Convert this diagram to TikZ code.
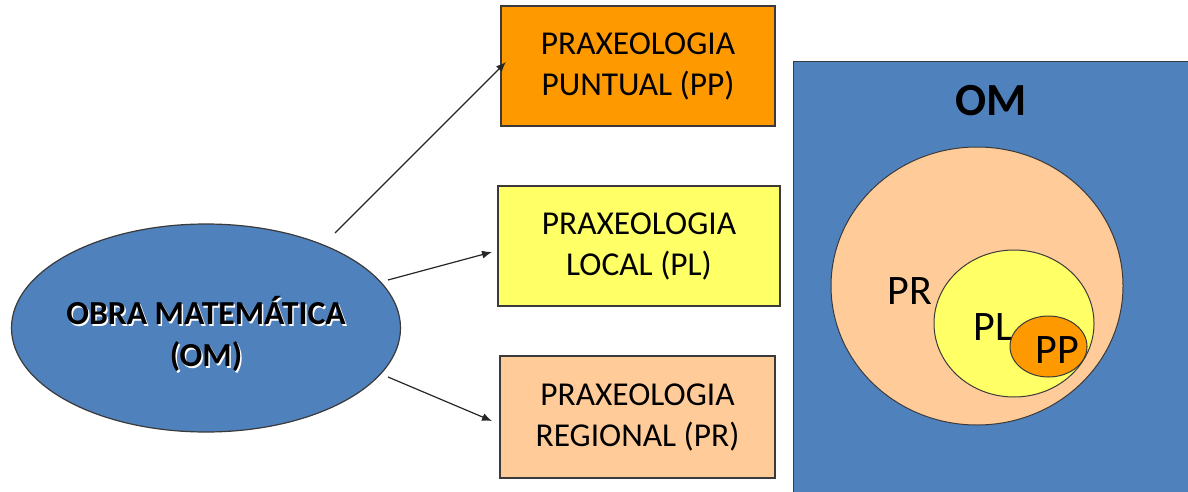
\documentclass[tikz,border=0pt]{standalone}
\usepackage{fontspec}
\setmainfont{Carlito}
\usetikzlibrary{arrows.meta,shapes.geometric}
\definecolor{omblue}{HTML}{4F81BD}
\definecolor{pporange}{HTML}{FF9900}
\definecolor{plyellow}{HTML}{FFFF66}
\definecolor{prpeach}{HTML}{FFCC99}
\definecolor{edgegray}{HTML}{3A3A3A}
\tikzset{
  praxbox/.style={draw=edgegray, line width=0.6pt, rectangle, inner sep=0pt,
    align=center, font=\fontsize{16.7pt}{20.5pt}\selectfont},
  venn/.style={draw=edgegray, line width=0.5pt, ellipse, inner sep=0pt},
  conn/.style={line width=0.6pt, draw=black!85, -{Latex[length=5pt,width=4pt]}},
  bigtext/.style={font=\fontsize{16.8pt}{21pt}\selectfont\bfseries, align=center, inner sep=0pt}
}
\begin{document}
\begin{tikzpicture}[x=0.5pt,y=-0.5pt]
\useasboundingbox (0,0) rectangle (1188,492);
% left ellipse
\node[venn, fill=omblue, line width=0.6pt, minimum width=194.5pt, minimum height=104pt] (om) at (206,328) {};
\node[bigtext, text=white] (omshadow) at (207.5,335.5) {OBRA MATEMÁTICA\\(OM)};
\node[bigtext, text=black] (omtext) at (206,334) {OBRA MATEMÁTICA\\(OM)};
% boxes
\node[praxbox, fill=pporange, minimum width=137pt, minimum height=60pt] (pp) at (638,66) {PRAXEOLOGIA\\PUNTUAL (PP)};
\node[praxbox, fill=plyellow, minimum width=141pt, minimum height=60pt] (pl) at (639,246) {PRAXEOLOGIA\\LOCAL (PL)};
\node[praxbox, fill=prpeach, minimum width=137.5pt, minimum height=61pt] (pr) at (637.5,417) {PRAXEOLOGIA\\REGIONAL (PR)};
% connectors
\coordinate (a1s) at (335,233);
\coordinate (a1e) at (506,62);
\coordinate (a2s) at (388,280);
\coordinate (a2e) at (492,252);
\coordinate (a3s) at (388,377);
\coordinate (a3e) at (492,421);
\draw[conn] (a1s) -- (a1e);
\draw[conn] (a2s) -- (a2e);
\draw[conn] (a3s) -- (a3e);
% right panel
\node[draw=edgegray, line width=0.6pt, fill=omblue, rectangle, minimum width=198pt, minimum height=216pt, inner sep=0pt, anchor=north west] (panel) at (793,61) {};
\node[font=\fontsize{23pt}{27pt}\selectfont\bfseries, inner sep=0pt] (omlabel) at (991,101) {OM};
\node[venn, fill=prpeach, minimum width=146pt, minimum height=139pt] (prc) at (977,286) {};
\node[font=\fontsize{21pt}{25pt}\selectfont, inner sep=0pt] (prlabel) at (910,291) {PR};
\node[venn, fill=plyellow, minimum width=80pt, minimum height=73.5pt] (plc) at (1014,323.5) {};
\node[font=\fontsize{21pt}{25pt}\selectfont, inner sep=0pt] (pllabel) at (993,327) {PL};
\node[venn, fill=pporange, minimum width=38.5pt, minimum height=30.5pt] (ppc) at (1048.5,346.5) {};
\node[font=\fontsize{21pt}{25pt}\selectfont, inner sep=0pt] (pplabel) at (1057,350) {PP};
\end{tikzpicture}
\end{document}
